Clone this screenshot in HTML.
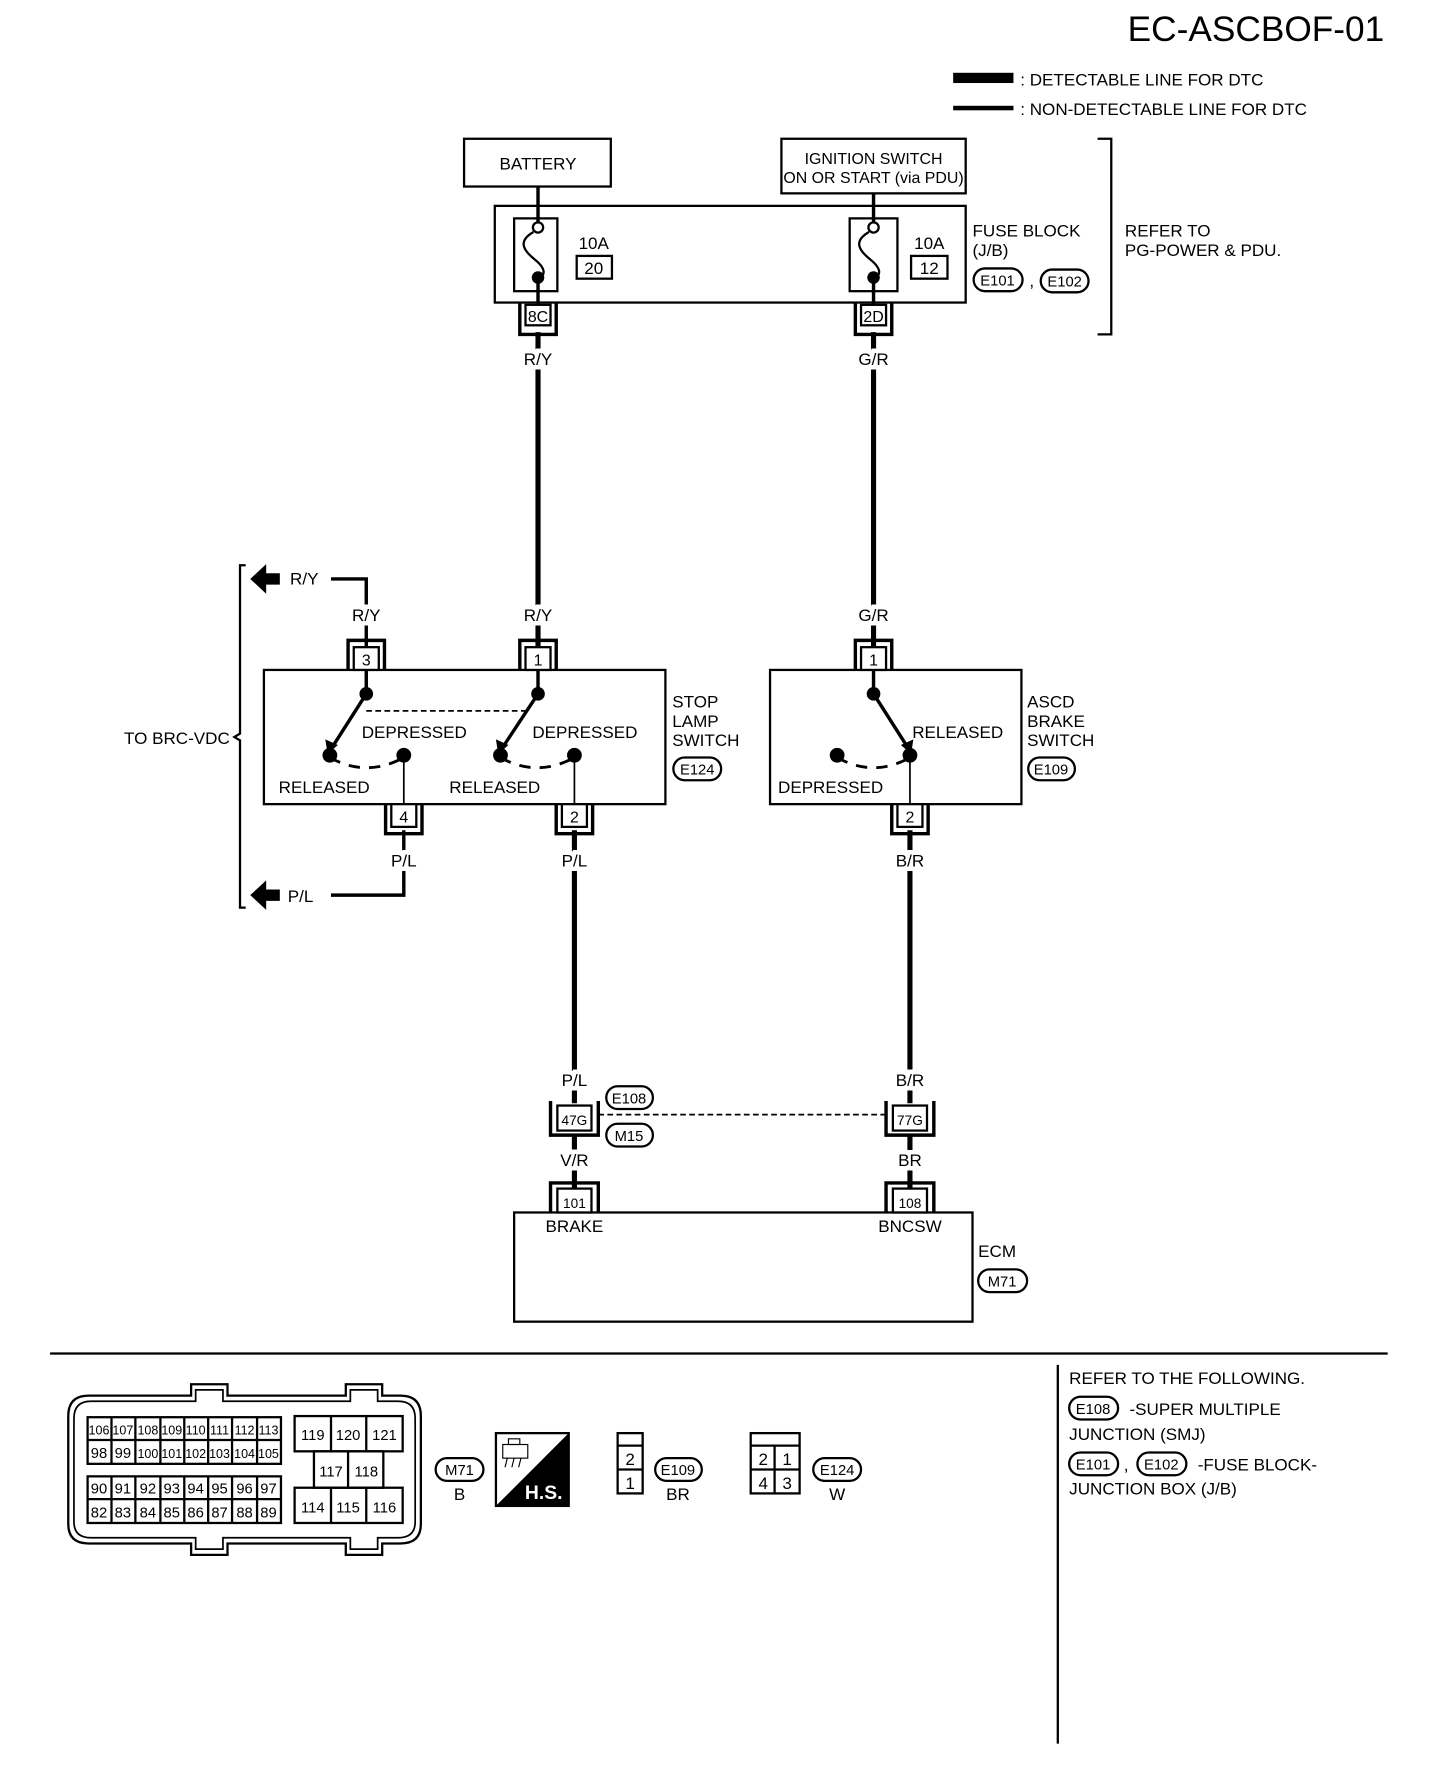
<!DOCTYPE html>
<html><head><meta charset="utf-8"><style>
html,body{margin:0;padding:0;background:#fff;}
svg{display:block;}
text{font-family:"Liberation Sans",sans-serif;fill:#000;}
</style></head><body>
<svg width="1440" height="1788" viewBox="0 0 1266 1572" xmlns="http://www.w3.org/2000/svg">
<g font-size="15">
<text x="1217" y="36" font-size="31" text-anchor="end">EC-ASCBOF-01</text>
<rect x="838" y="64" width="53" height="9" fill="#000"/>
<text x="897" y="75">: DETECTABLE LINE FOR DTC</text>
<rect x="838" y="93" width="53" height="4" fill="#000"/>
<text x="897" y="101">: NON-DETECTABLE LINE FOR DTC</text>

<g fill="none" stroke="#000" stroke-width="2">
<rect x="408" y="122" width="129" height="42"/>
<rect x="687" y="122" width="162" height="48"/>
<rect x="435" y="181" width="414" height="85"/>
<rect x="452" y="192" width="38" height="64"/>
<rect x="747" y="192" width="42" height="64"/>
<rect x="507" y="225" width="31" height="20"/>
<rect x="801" y="225" width="32" height="20"/>
<path d="M965 122 H977 V294 H965"/>
<path d="M469 204 C455 212,460 220,470 228 C480 236,480 242,473 245"/>
<path d="M764 204 C750 212,755 220,765 228 C775 236,775 242,768 245"/>
<rect x="232" y="589" width="353" height="118"/>
<rect x="677" y="589" width="221" height="118"/>
<rect x="452" y="1066" width="403" height="96"/>
</g>
<g stroke="#000" stroke-width="3" fill="none">
<path d="M473 164 V196 M473 247 V268"/>
<path d="M768 170 V196 M768 247 V268"/>
</g>
<circle cx="473" cy="200" r="4.5" fill="#fff" stroke="#000" stroke-width="2"/>
<circle cx="768" cy="200" r="4.5" fill="#fff" stroke="#000" stroke-width="2"/>
<circle cx="473" cy="244" r="5.5" fill="#000"/>
<circle cx="768" cy="244" r="5.5" fill="#000"/>
<text x="473" y="149" text-anchor="middle">BATTERY</text>
<text x="768" y="144" text-anchor="middle" font-size="14">IGNITION SWITCH</text>
<text x="768" y="161" text-anchor="middle" font-size="14">ON OR START (via PDU)</text>
<text x="522" y="219" text-anchor="middle">10A</text>
<text x="522" y="241" text-anchor="middle">20</text>
<text x="817" y="219" text-anchor="middle">10A</text>
<text x="817" y="241" text-anchor="middle">12</text>
<text x="855" y="208">FUSE BLOCK</text>
<text x="855" y="225">(J/B)</text>
<text x="905" y="252">,</text>
<text x="989" y="208">REFER TO</text>
<text x="989" y="225">PG-POWER &amp; PDU.</text>

<g stroke="#000" stroke-width="4.5" fill="none">
<path d="M473 292 V568"/>
<path d="M768 292 V568"/>
<path d="M505 730 V970"/>
<path d="M800 730 V970"/>
<path d="M505 998 V1044"/>
<path d="M800 998 V1044"/>
</g>
<g stroke="#000" stroke-width="3" fill="none">
<path d="M291 509 H322 V568"/>
<path d="M355 730 V787 H291"/>
<path d="M322 589 V610 L292 657"/>
<path d="M473 589 V610 L442 657"/>
<path d="M768 589 V610 L798 657"/>
</g>
<g stroke="#000" stroke-width="1.5" fill="none">
<path d="M355 664 V707 M505 664 V707 M800 664 V707"/>
<path d="M322 625 H466" stroke-dasharray="5,3"/>
<path d="M526 980 H780" stroke-dasharray="5,3"/>
<path d="M290 666 Q322 684 355 666" stroke-width="2.5" stroke-dasharray="10,8"/>
<path d="M440 666 Q472 684 505 666" stroke-width="2.5" stroke-dasharray="10,8"/>
<path d="M736 666 Q768 684 800 666" stroke-width="2.5" stroke-dasharray="10,8"/>
</g>
<g fill="#000">
<polygon points="288,663 286,650 297,655"/>
<polygon points="438,663 436,650 447,655"/>
<polygon points="801,663 792,655 803,650"/>
<circle cx="322" cy="610" r="6"/><circle cx="473" cy="610" r="6"/><circle cx="768" cy="610" r="6"/>
<circle cx="290" cy="664" r="6.5"/><circle cx="355" cy="664" r="6.5"/>
<circle cx="440" cy="664" r="6.5"/><circle cx="505" cy="664" r="6.5"/>
<circle cx="736" cy="664" r="6.5"/><circle cx="800" cy="664" r="6.5"/>
<polygon points="220,509 234,496 234,504 246,504 246,514 234,514 234,522"/>
<polygon points="220,787 234,774 234,782 246,782 246,792 234,792 234,800"/>
</g>
<g fill="#fff" stroke="#000" stroke-width="2">
<path d="M457 266 V294 H489 V266" fill="none" stroke-width="3"/>
<rect x="462" y="268" width="22" height="18"/>
<path d="M752 266 V294 H784 V266" fill="none" stroke-width="3"/>
<rect x="757" y="268" width="22" height="18"/>
<path d="M306 589 V563 H338 V589" fill="none" stroke-width="3"/>
<rect x="311" y="569" width="22" height="20"/>
<path d="M457 589 V563 H489 V589" fill="none" stroke-width="3"/>
<rect x="462" y="569" width="22" height="20"/>
<path d="M752 589 V563 H784 V589" fill="none" stroke-width="3"/>
<rect x="757" y="569" width="22" height="20"/>
<path d="M339 707 V733 H371 V707" fill="none" stroke-width="3"/>
<rect x="344" y="707" width="22" height="20"/>
<path d="M489 707 V733 H521 V707" fill="none" stroke-width="3"/>
<rect x="494" y="707" width="22" height="20"/>
<path d="M784 707 V733 H816 V707" fill="none" stroke-width="3"/>
<rect x="789" y="707" width="22" height="20"/>
<path d="M484 968 V998 H526 V968" fill="none" stroke-width="3"/>
<rect x="490" y="972" width="30" height="22"/>
<path d="M779 968 V998 H821 V968" fill="none" stroke-width="3"/>
<rect x="785" y="972" width="30" height="22"/>
<path d="M484 1066 V1040 H526 V1066" fill="none" stroke-width="3"/>
<rect x="490" y="1045" width="30" height="21"/>
<path d="M779 1066 V1040 H821 V1066" fill="none" stroke-width="3"/>
<rect x="785" y="1045" width="30" height="21"/>
</g>
<g text-anchor="middle">
<text x="473" y="283" font-size="14">8C</text>
<text x="768" y="283" font-size="14">2D</text>
<text x="322" y="585" font-size="14">3</text>
<text x="473" y="585" font-size="14">1</text>
<text x="768" y="585" font-size="14">1</text>
<text x="355" y="723" font-size="14">4</text>
<text x="505" y="723" font-size="14">2</text>
<text x="800" y="723" font-size="14">2</text>
<text x="505" y="989" font-size="12">47G</text>
<text x="800" y="989" font-size="12">77G</text>
<text x="505" y="1062" font-size="12">101</text>
<text x="800" y="1062" font-size="12">108</text>
</g>
<g text-anchor="middle" stroke="#fff" stroke-width="8" paint-order="stroke">
<text x="473" y="321">R/Y</text>
<text x="768" y="321">G/R</text>
<text x="473" y="546">R/Y</text>
<text x="768" y="546">G/R</text>
<text x="322" y="546">R/Y</text>
<text x="355" y="762">P/L</text>
<text x="505" y="762">P/L</text>
<text x="800" y="762">B/R</text>
<text x="505" y="955">P/L</text>
<text x="800" y="955">B/R</text>
<text x="505" y="1025">V/R</text>
<text x="800" y="1025">BR</text>
</g>
<text x="255" y="514">R/Y</text>
<text x="253" y="793">P/L</text>
<path d="M216 497 H211 V645 L206 648 L211 651 V798 H216" fill="none" stroke="#000" stroke-width="2"/>
<text x="202" y="654" text-anchor="end">TO BRC-VDC</text>
<text x="318" y="649">DEPRESSED</text>
<text x="468" y="649">DEPRESSED</text>
<text x="245" y="697">RELEASED</text>
<text x="395" y="697">RELEASED</text>
<text x="591" y="622">STOP</text>
<text x="591" y="639">LAMP</text>
<text x="591" y="656">SWITCH</text>
<text x="802" y="649">RELEASED</text>
<text x="684" y="697">DEPRESSED</text>
<text x="903" y="622">ASCD</text>
<text x="903" y="639">BRAKE</text>
<text x="903" y="656">SWITCH</text>
<text x="505" y="1083" text-anchor="middle">BRAKE</text>
<text x="800" y="1083" text-anchor="middle">BNCSW</text>
<text x="860" y="1105">ECM</text>
<g fill="none" stroke="#000" stroke-width="2">
<rect x="856" y="236" width="43" height="20" rx="10"/>
<rect x="915" y="237" width="42" height="20" rx="10"/>
<rect x="592" y="666" width="42" height="20" rx="10"/>
<rect x="904" y="666" width="41" height="20" rx="10"/>
<rect x="533" y="955" width="41" height="20" rx="10"/>
<rect x="533" y="988" width="41" height="20" rx="10"/>
<rect x="860" y="1116" width="43" height="20" rx="10"/>
<rect x="383" y="1282" width="42" height="20" rx="10"/>
<rect x="576" y="1282" width="41" height="20" rx="10"/>
<rect x="715" y="1282" width="42" height="20" rx="10"/>
<rect x="940" y="1228" width="43" height="20" rx="10"/>
<rect x="940" y="1277" width="43" height="20" rx="10"/>
<rect x="1000" y="1277" width="43" height="20" rx="10"/>
</g>
<g text-anchor="middle" font-size="13">
<text x="877" y="251">E101</text><text x="936" y="252">E102</text>
<text x="613" y="681">E124</text><text x="924" y="681">E109</text>
<text x="553" y="970">E108</text><text x="553" y="1003">M15</text>
<text x="881" y="1131">M71</text>
<text x="404" y="1297">M71</text><text x="596" y="1297">E109</text><text x="736" y="1297">E124</text>
<text x="961" y="1243">E108</text><text x="961" y="1292">E101</text><text x="1021" y="1292">E102</text>
</g>
<text x="404" y="1319" text-anchor="middle">B</text>
<text x="596" y="1319" text-anchor="middle">BR</text>
<text x="736" y="1319" text-anchor="middle">W</text>
<rect x="44" y="1189" width="1176" height="2" fill="#000"/>
<rect x="929" y="1200" width="2" height="333" fill="#000"/>
<text x="940" y="1217">REFER TO THE FOLLOWING.</text>
<text x="993" y="1244">-SUPER MULTIPLE</text>
<text x="940" y="1266">JUNCTION (SMJ)</text>
<text x="988" y="1293">,</text>
<text x="1053" y="1293">-FUSE BLOCK-</text>
<text x="940" y="1314">JUNCTION BOX (J/B)</text>
<g fill="none" stroke="#000" stroke-width="2">
<path d="M78 1227 H168 V1217 H200 V1227 H304 V1217 H336 V1227 H352 Q370 1227 370 1245 V1340 Q370 1357 352 1357 H336 V1367 H304 V1357 H200 V1367 H168 V1357 H78 Q60 1357 60 1340 V1245 Q60 1227 78 1227 Z"/>
<path d="M80 1232 H172 V1222 H196 V1232 H308 V1222 H332 V1232 H350 Q365 1232 365 1247 V1338 Q365 1352 350 1352 H332 V1362 H308 V1352 H196 V1362 H172 V1352 H80 Q65 1352 65 1338 V1247 Q65 1232 80 1232 Z" stroke-width="1.5"/>
<rect x="77" y="1246" width="170" height="41"/>
<rect x="77" y="1298" width="170" height="41"/>
<path d="M77 1266 H247 M77 1318 H247"/>
<path d="M98 1246 V1287 M119 1246 V1287 M141 1246 V1287 M162 1246 V1287 M183 1246 V1287 M204 1246 V1287 M226 1246 V1287"/>
<path d="M98 1298 V1339 M119 1298 V1339 M141 1298 V1339 M162 1298 V1339 M183 1298 V1339 M204 1298 V1339 M226 1298 V1339"/>
<rect x="259" y="1245" width="95" height="31"/>
<path d="M291 1245 V1276 M322 1245 V1276"/>
<rect x="276" y="1276" width="61" height="32"/>
<path d="M306 1276 V1308"/>
<rect x="259" y="1308" width="95" height="31"/>
<path d="M291 1308 V1339 M322 1308 V1339"/>
</g>
<g text-anchor="middle" font-size="11">
<text x="87" y="1261">106</text><text x="108" y="1261">107</text><text x="130" y="1261">108</text><text x="151" y="1261">109</text><text x="172" y="1261">110</text><text x="193" y="1261">111</text><text x="215" y="1261">112</text><text x="236" y="1261">113</text>
<text x="87" y="1282" font-size="13">98</text><text x="108" y="1282" font-size="13">99</text><text x="130" y="1282">100</text><text x="151" y="1282">101</text><text x="172" y="1282">102</text><text x="193" y="1282">103</text><text x="215" y="1282">104</text><text x="236" y="1282">105</text>
</g>
<g text-anchor="middle" font-size="13">
<text x="87" y="1313">90</text><text x="108" y="1313">91</text><text x="130" y="1313">92</text><text x="151" y="1313">93</text><text x="172" y="1313">94</text><text x="193" y="1313">95</text><text x="215" y="1313">96</text><text x="236" y="1313">97</text>
<text x="87" y="1334">82</text><text x="108" y="1334">83</text><text x="130" y="1334">84</text><text x="151" y="1334">85</text><text x="172" y="1334">86</text><text x="193" y="1334">87</text><text x="215" y="1334">88</text><text x="236" y="1334">89</text>
<text x="275" y="1266">119</text><text x="306" y="1266">120</text><text x="338" y="1266">121</text>
<text x="291" y="1298">117</text><text x="322" y="1298">118</text>
<text x="275" y="1330">114</text><text x="306" y="1330">115</text><text x="338" y="1330">116</text>
</g>
<rect x="436" y="1260" width="64" height="64" fill="#fff" stroke="#000" stroke-width="2"/>
<polygon points="500,1260 500,1324 436,1324" fill="#000"/>
<text x="478" y="1318" text-anchor="middle" font-size="17" font-weight="bold" style="fill:#fff">H.S.</text>
<g fill="none" stroke="#000" stroke-width="1">
<rect x="442" y="1270" width="22" height="12"/><rect x="447" y="1265" width="10" height="5"/>
<path d="M446 1282 L444 1290 M452 1282 L450 1290 M458 1282 L456 1290"/>
</g>
<g fill="none" stroke="#000" stroke-width="2">
<rect x="543" y="1260" width="22" height="53"/>
<path d="M543 1271 H565 M543 1292 H565"/>
<rect x="660" y="1260" width="43" height="53"/>
<path d="M660 1271 H703 M660 1292 H703 M681 1271 V1313"/>
</g>
<g text-anchor="middle">
<text x="554" y="1288">2</text><text x="554" y="1309">1</text>
<text x="671" y="1288">2</text><text x="692" y="1288">1</text>
<text x="671" y="1309">4</text><text x="692" y="1309">3</text>
</g>
</g>
</svg>
</body></html>
